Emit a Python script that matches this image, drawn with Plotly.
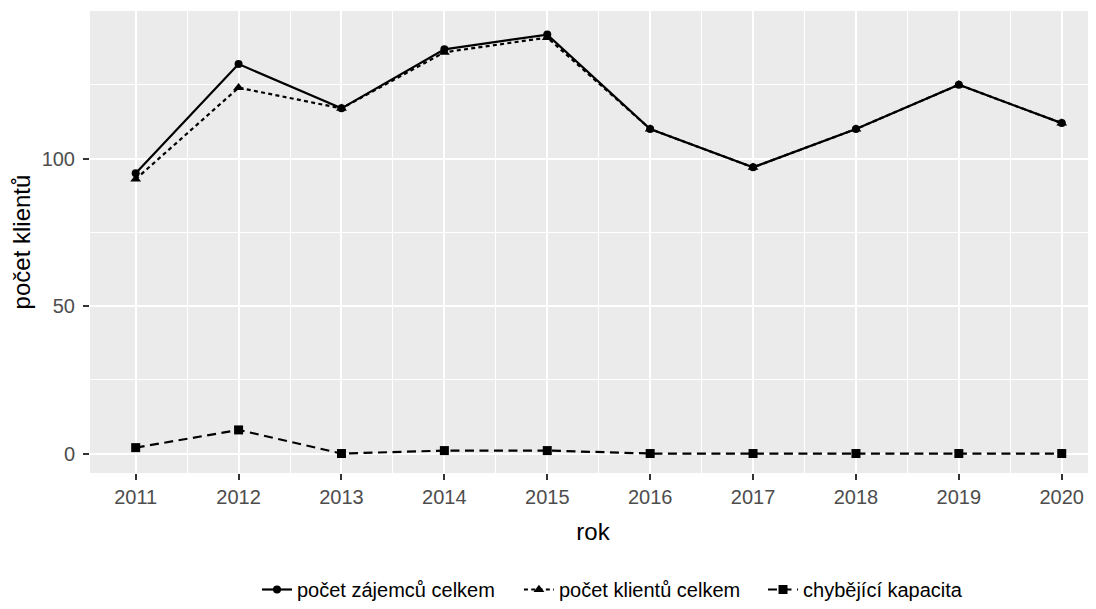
import plotly.graph_objects as go

roky = [2011, 2012, 2013, 2014, 2015, 2016, 2017, 2018, 2019, 2020]
zajemci = [95, 132, 117, 137, 142, 110, 97, 110, 125, 112]
klienti = [93, 124, 117, 136, 141, 110, 97, 110, 125, 112]
chybejici = [2, 8, 0, 1, 1, 0, 0, 0, 0, 0]

nazvy = ["počet zájemců celkem", "počet klientů celkem", "chybějící kapacita"]
y_ticks = [0, 50, 100]

FONT = "Liberation Sans"
LW = 2.2

fig = go.Figure()
fig.add_trace(go.Scatter(
    x=roky, y=zajemci, name=nazvy[0], mode="lines+markers", legend="legend",
    line=dict(color="black", width=LW, dash="solid"),
    marker=dict(symbol="circle", size=8, color="black"),
))
fig.add_trace(go.Scatter(
    x=roky, y=klienti, name=nazvy[1], mode="lines+markers", legend="legend2",
    line=dict(color="black", width=LW, dash="4px,3.3px"),
    marker=dict(symbol="triangle-up", size=9.5, color="black"),
))
fig.add_trace(go.Scatter(
    x=roky, y=chybejici, name=nazvy[2], mode="lines+markers", legend="legend3",
    line=dict(color="black", width=LW, dash="9px,5.5px"),
    marker=dict(symbol="square", size=9, color="black"),
))

leg_common = dict(
    orientation="h", xanchor="left", y=-0.2527, yanchor="middle",
    font=dict(family=FONT, size=20, color="black"),
    bgcolor="rgba(0,0,0,0)", itemwidth=30,
)

fig.update_layout(
    width=1088, height=601,
    margin=dict(l=82, r=0, t=3, b=131),
    paper_bgcolor="white",
    plot_bgcolor="#EBEBEB",
    font=dict(family=FONT, color="black"),
    showlegend=True,
    legend=dict(x=0.1660, **leg_common),
    legend2=dict(x=0.4264, **leg_common),
    legend3=dict(x=0.6690, **leg_common),
    xaxis=dict(
        range=[2010.556, 2020.333],
        tickmode="array", tickvals=roky, ticktext=[str(r) for r in roky],
        showgrid=True, gridcolor="white", gridwidth=2.2,
        minor=dict(showgrid=True, gridcolor="white", gridwidth=1.1, dtick=0.5, tick0=2010.5, ticks=""),
        ticks="outside", ticklen=6, tickwidth=2, tickcolor="#333333",
        tickfont=dict(family=FONT, size=20, color="#4D4D4D"),
        zeroline=False, showline=False,
        title=dict(text="rok", font=dict(family=FONT, size=24, color="black"), standoff=16),
    ),
    yaxis=dict(
        range=[-6.6, 150],
        tickmode="array", tickvals=y_ticks, ticktext=[str(v) for v in y_ticks],
        showgrid=True, gridcolor="white", gridwidth=2.2,
        minor=dict(showgrid=True, gridcolor="white", gridwidth=1.1, dtick=25, tick0=0, ticks=""),
        ticks="outside", ticklen=6, tickwidth=2, tickcolor="#333333",
        tickfont=dict(family=FONT, size=20, color="#4D4D4D"),
        ticklabelstandoff=4,
        zeroline=False, showline=False,
        title=dict(text="počet klientů", font=dict(family=FONT, size=24, color="black"), standoff=7),
    ),
)

fig.write_html("out.html")
